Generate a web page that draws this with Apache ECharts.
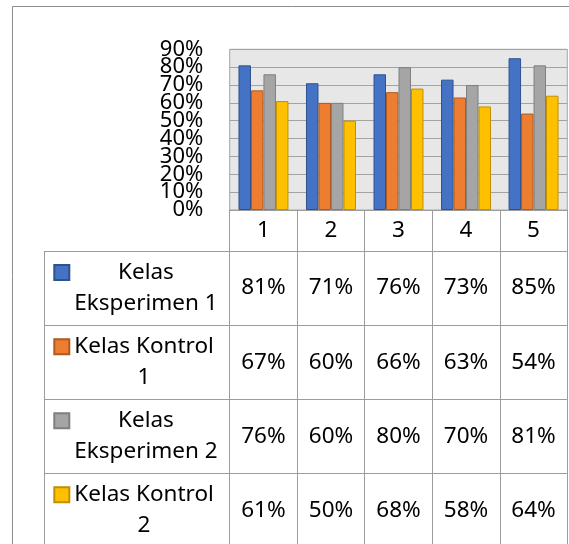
<!DOCTYPE html>
<html><head><meta charset="utf-8">
<script src="https://cdn.jsdelivr.net/npm/echarts@6/dist/echarts.min.js"></script>
<style>html,body{margin:0;padding:0;background:#fff}#c{width:569px;height:544px}</style>
</head><body><div id="c"></div>
<script>
// ---- data ----
const categories = ['1', '2', '3', '4', '5'];
const seriesNames = ['Kelas Eksperimen 1', 'Kelas Kontrol 1', 'Kelas Eksperimen 2', 'Kelas Kontrol 2'];
const eksperimen1 = [0.81, 0.71, 0.76, 0.73, 0.85];
const kontrol1 = [0.67, 0.60, 0.66, 0.63, 0.54];
const eksperimen2 = [0.76, 0.60, 0.80, 0.70, 0.81];
const kontrol2 = [0.61, 0.50, 0.68, 0.58, 0.64];
const yTickValues = [0, 0.1, 0.2, 0.3, 0.4, 0.5, 0.6, 0.7, 0.8, 0.9];
const yTickLabels = ['0%', '10%', '20%', '30%', '40%', '50%', '60%', '70%', '80%', '90%'];

// ---- styling / layout ----
const seriesValues = [eksperimen1, kontrol1, eksperimen2, kontrol2];
const fills = ['#4472C4', '#ED7D31', '#A5A5A5', '#FFC000'];
const borders = ['#2F528F', '#AE5A21', '#7F7F7F', '#BF9000'];
const FONT = '"Noto Sans", "Open Sans", sans-serif';
const FS = 22.5, LH = 31;
const lineColor = '#9c9c9c';
const gridLeft = 229.7, gridRight = 1.7, gridTop = 49.3, plotBottom = 210;
const headerH = 41, rowH = 74.1;
const rowTops = seriesNames.map((_, i) => plotBottom + headerH + i * rowH);
const colLeft = 44.3;

const pct = v => Math.round(v * 100) + '%';
const yLabel = v => yTickLabels[yTickValues.findIndex(t => Math.abs(t - v) < 1e-6)];

// wrap legend names into lines by measured width
const ctx = document.createElement('canvas').getContext('2d');
ctx.font = FS + 'px ' + FONT;
function wrap(text, maxW) {
  const words = text.split(' ');
  const lines = [];
  let cur = '';
  words.forEach(w => {
    const t = cur ? cur + ' ' + w : w;
    if (cur && ctx.measureText(t).width > maxW) { lines.push(cur); cur = w; }
    else cur = t;
  });
  if (cur) lines.push(cur);
  return lines;
}

const chart = echarts.init(document.getElementById('c'), null, {renderer: 'canvas'});

const xAxes = [];
xAxes.push({
  type: 'category', gridIndex: 0, data: categories, position: 'bottom',
  axisLine: {show: true, onZero: false, lineStyle: {color: lineColor, width: 1}},
  axisTick: {show: true, length: headerH, interval: 0, lineStyle: {color: lineColor}},
  axisLabel: {interval: 0, margin: 9.5, fontSize: FS, lineHeight: 22, fontFamily: FONT, color: '#000'}
});
seriesValues.forEach((vals, i) => {
  xAxes.push({
    type: 'category', gridIndex: 0, data: categories, position: 'bottom',
    offset: rowTops[i] - plotBottom,
    axisLine: {show: true, onZero: false, lineStyle: {color: lineColor, width: 1}},
    axisTick: {show: true, length: rowH, interval: 0, lineStyle: {color: lineColor}},
    axisLabel: {interval: 0, margin: rowH / 2 - 11, fontSize: FS, lineHeight: 22, fontFamily: FONT, color: '#000',
      formatter: (v, idx) => pct(vals[idx])}
  });
});
seriesNames.forEach((n, i) => {
  xAxes.push({
    type: 'category', gridIndex: 1, data: [''], position: 'bottom',
    offset: rowTops[i] - plotBottom,
    axisLine: {show: true, onZero: false, lineStyle: {color: lineColor, width: 1}},
    axisTick: {show: true, length: rowH, interval: 0, lineStyle: {color: lineColor}},
    axisLabel: {show: false}
  });
});

const legends = seriesNames.map((name, i) => {
  const l1Center = rowTops[i] + rowH / 2 - LH / 2;
  return {
    data: [name], left: 53.3, top: l1Center - 1.5 * LH,
    orient: 'vertical', icon: 'rect', itemWidth: 15, itemHeight: 15, itemGap: 0, padding: 0,
    selectedMode: false,
    formatter: nm => ['{c| }'].concat(wrap(nm, 148).map(s => '{c|' + s + '}')).join('\n'),
    textStyle: {fontSize: FS, fontFamily: FONT, color: '#000', lineHeight: LH,
      rich: {c: {fontSize: FS, fontFamily: FONT, color: '#000', lineHeight: LH, align: 'center'}}}
  };
});

const yLabelStyle = {margin: 26.4, fontSize: 22, fontFamily: FONT, color: '#000', formatter: yLabel};
const option = {
  animation: false,
  backgroundColor: '#fff',
  grid: [
    {left: gridLeft, right: gridRight, top: gridTop, height: plotBottom - gridTop,
     show: true, backgroundColor: '#e7e7e7', borderColor: '#a6a6a6', borderWidth: 1},
    {left: colLeft, width: gridLeft - colLeft, top: gridTop, height: plotBottom - gridTop, show: false}
  ],
  xAxis: xAxes,
  yAxis: [
    {type: 'value', gridIndex: 0, position: 'left', min: 0, max: 0.9, interval: 0.1,
     axisLine: {show: false}, axisTick: {show: false},
     splitLine: {show: true, lineStyle: {color: '#a3a3a3', width: 1}},
     axisLabel: Object.assign({customValues: yTickValues.filter((_, k) => k % 2 === 0)}, yLabelStyle)},
    {type: 'value', gridIndex: 0, position: 'left', min: 0, max: 0.9, interval: 0.1,
     axisLine: {show: false}, axisTick: {show: false}, splitLine: {show: false},
     axisLabel: Object.assign({customValues: yTickValues.filter((_, k) => k % 2 === 1)}, yLabelStyle)},
    {type: 'value', gridIndex: 1, show: false}
  ],
  legend: legends,
  series: seriesNames.map((name, i) => ({
    name, type: 'bar', xAxisIndex: 0, yAxisIndex: 0,
    data: seriesValues[i],
    barGap: '0%', barCategoryGap: '26%',
    itemStyle: {color: fills[i], borderColor: borders[i], borderWidth: 1},
    emphasis: {disabled: true}
  })),
  graphic: [{
    type: 'rect', silent: true, z: 100,
    shape: {x: 12.5, y: 6.5, width: 700, height: 700},
    style: {fill: 'none', stroke: '#8c8c8c', lineWidth: 1}
  }]
};
chart.setOption(option);
</script></body></html>
